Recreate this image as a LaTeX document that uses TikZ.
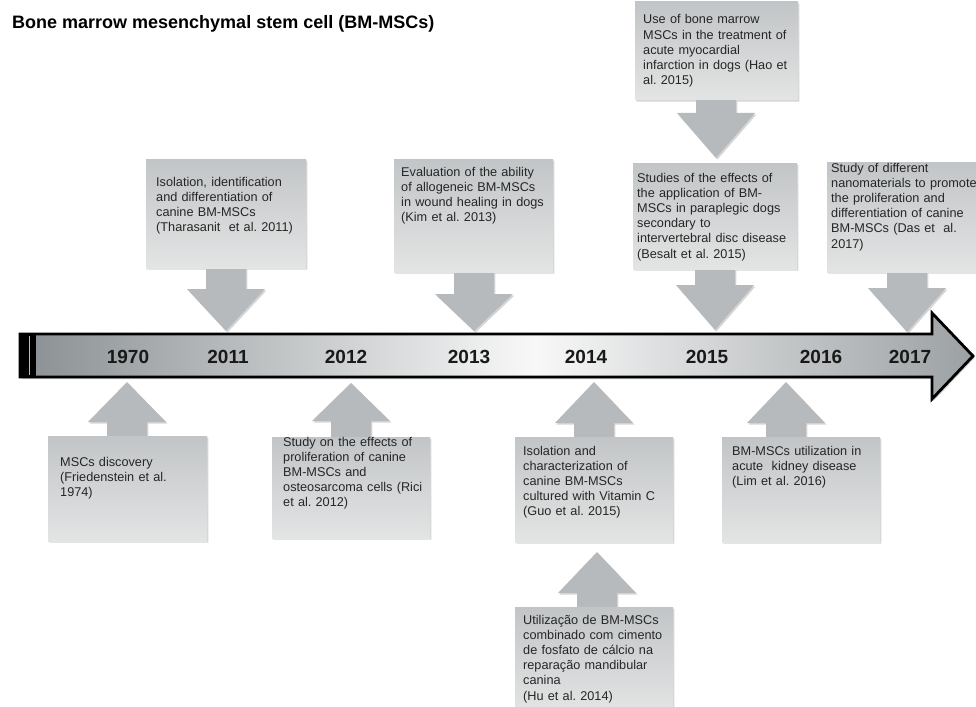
\documentclass[tikz,border=0pt]{standalone}
\usepackage{fontspec}
\setmainfont{Liberation Sans}
\usetikzlibrary{positioning}

\definecolor{barside}{HTML}{8A9093}
\definecolor{barmid}{HTML}{F8F8F8}
\definecolor{boxtop}{HTML}{C2C5C7}
\definecolor{boxbot}{HTML}{E3E4E4}
\definecolor{arrowgray}{HTML}{B7BABC}
\definecolor{inktext}{HTML}{262626}

\pgfdeclarehorizontalshading{barshading}{100bp}{color(0bp)=(barside); color(25bp)=(barside);
  color(52bp)=(barmid); color(75bp)=(barside!85!white); color(100bp)=(barside!85!white)}

\tikzset{
  boxtext/.style={anchor=base west, align=left, text width=175pt, inner sep=0pt,
    font=\fontsize{12.7}{15.2}\selectfont\frenchspacing, text=inktext},
  yearlabel/.style={font=\fontsize{19}{22}\selectfont\bfseries, text=black!90, inner sep=0pt},
  callshadow/.style={fill=black, opacity=.16, xshift=1.4pt, yshift=-1.6pt},
  callbox/.style={top color=boxtop, bottom color=boxbot},
  callarrow/.style={fill=arrowgray}
}

% box left, box right, box top, box bottom, arrow x, head top, tip
\newcommand{\downcall}[7]{%
  \path[callshadow] (#1,#3) -- (#2,#3) -- (#2,#4) -- ({#5+\sw},#4) -- ({#5+\sw},#6)
    -- ({#5+\hw},#6) -- (#5,#7) -- ({#5-\hw},#6) -- ({#5-\sw},#6) -- ({#5-\sw},#4) -- (#1,#4) -- cycle;
  \path[callarrow] ({#5-\sw},{#4-1}) -- ({#5+\sw},{#4-1}) -- ({#5+\sw},#6) -- ({#5+\hw},#6)
    -- (#5,#7) -- ({#5-\hw},#6) -- ({#5-\sw},#6) -- cycle;
  \shade[callbox] (#1,#3) rectangle (#2,#4);
}
% box left, box right, box top, box bottom, arrow x, head bottom, tip
\newcommand{\upcall}[7]{%
  \path[callshadow] (#1,#4) -- (#2,#4) -- (#2,#3) -- ({#5+\sw},#3) -- ({#5+\sw},#6)
    -- ({#5+\hw},#6) -- (#5,#7) -- ({#5-\hw},#6) -- ({#5-\sw},#6) -- ({#5-\sw},#3) -- (#1,#3) -- cycle;
  \path[callarrow] ({#5-\sw},{#3+1}) -- ({#5+\sw},{#3+1}) -- ({#5+\sw},#6) -- ({#5+\hw},#6)
    -- (#5,#7) -- ({#5-\hw},#6) -- ({#5-\sw},#6) -- cycle;
  \shade[callbox] (#1,#3) rectangle (#2,#4);
}

\begin{document}
\begin{tikzpicture}[x=1pt,y=-1pt]
    \def\sw{20}
    \def\hw{39}
    \useasboundingbox[fill=white] (0,0) rectangle (976,706);

    \node[anchor=base west, inner sep=0pt, font=\fontsize{18}{21}\selectfont\bfseries] (title) at (12,28.5)
      {Bone marrow mesenchymal stem cell (BM-MSCs)};

    % timeline
    \fill[black, opacity=.2, xshift=1.5pt, yshift=-2pt] (20,334) -- (932,334) -- (932,313) -- (973,356)
      -- (932,399) -- (932,377) -- (20,377) -- cycle;
    \path[shading=barshading, draw=black, line width=2.8pt]
      (20,334) -- (932,334) -- (932,313) -- (973,356) -- (932,399) -- (932,377) -- (20,377) -- cycle;
    \fill[black] (18.6,332.6) rectangle (36,378.4);
    \draw[gray!55, line width=1.6pt] (29.5,336) -- (29.5,375);

    \foreach \yr/\xx in {1970/128, 2011/228, 2012/346, 2013/469, 2014/586, 2015/707, 2016/821, 2017/910}
      \node[yearlabel] (y\yr) at (\xx,357) {\yr};

    % callouts above
    \downcall{146}{306}{159}{268}{226}{289}{331}
    \downcall{394}{553}{159}{272}{474}{294}{331}
    \downcall{635}{798}{2}{100}{716}{113}{158}
    \downcall{633}{797}{163}{269}{715}{285}{330}
    \downcall{827}{987}{162}{272}{907}{288}{332}
    % callouts below
    \upcall{48}{207}{436}{541}{127}{422}{382}
    \upcall{272}{430}{437}{538}{351}{421}{383}
    \upcall{515}{673}{437}{542}{594}{423}{382}
    \upcall{515}{673}{607}{712}{597}{593}{552}
    \upcall{722}{880}{437}{542}{786}{423}{382}

    \node[boxtext] (t2011) at (156,186) {Isolation, identification\\and differentiation of\\canine BM-MSCs\\(Tharasanit\ \ et al. 2011)};
    \node[boxtext] (t2013) at (401,176) {Evaluation of the ability\\of allogeneic BM-MSCs\\in wound healing in dogs\\(Kim et al. 2013)};
    \node[boxtext] (t2015a) at (643,24) {Use of bone marrow\\MSCs in the treatment of\\acute myocardial\\infarction in dogs (Hao et\\al. 2015)};
    \node[boxtext] (t2015b) at (637,182) {Studies of the effects of\\the application of BM-\\MSCs in paraplegic dogs\\secondary to\\intervertebral disc disease\\(Besalt et al. 2015)};
    \node[boxtext] (t2017) at (831,172) {Study of different\\nanomaterials to promote\\the proliferation and\\differentiation of canine\\BM-MSCs (Das et\ \ al.\\2017)};
    \node[boxtext] (t1970) at (60,466) {MSCs discovery\\(Friedenstein et al.\\1974)};
    \node[boxtext] (t2012) at (283,446) {Study on the effects of\\proliferation of canine\\BM-MSCs and\\osteosarcoma cells (Rici\\et al. 2012)};
    \node[boxtext] (t2014a) at (523,455) {Isolation and\\characterization of\\canine BM-MSCs\\cultured with Vitamin C\\(Guo et al. 2015)};
    \node[boxtext] (t2014b) at (523,624) {Utilização de BM-MSCs\\combinado com cimento\\de fosfato de cálcio na\\reparação mandibular\\canina\\(Hu et al. 2014)};
    \node[boxtext] (t2016) at (732,455) {BM-MSCs utilization in\\acute\ \ kidney disease\\(Lim et al. 2016)};
\end{tikzpicture}
\end{document}
